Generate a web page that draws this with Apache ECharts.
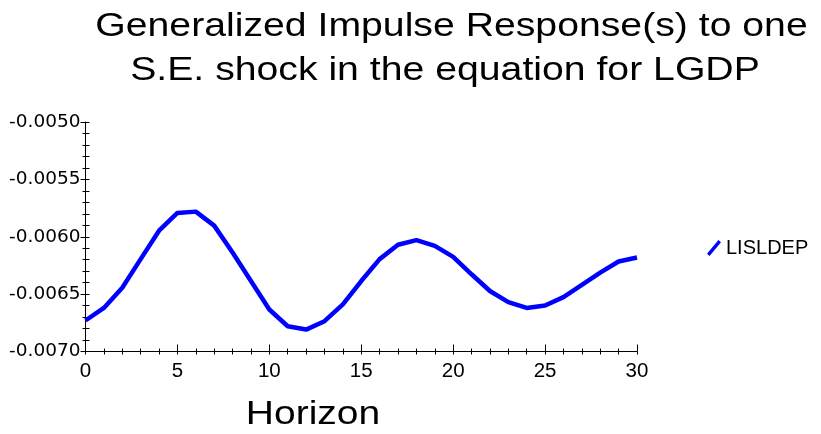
<!DOCTYPE html>
<html><head><meta charset="utf-8">
<script src="https://cdn.jsdelivr.net/npm/echarts@6/dist/echarts.min.js"></script>
<style>html,body{margin:0;padding:0;background:#fff}#c{width:821px;height:434px}</style>
</head><body><div id="c"></div>
<script>
const horizons = [0,1,2,3,4,5,6,7,8,9,10,11,12,13,14,15,16,17,18,19,20,21,22,23,24,25,26,27,28,29,30];
const lisldep = [-0.00673,-0.00662,-0.006444,-0.006195,-0.005947,-0.005792,-0.005781,-0.005903,-0.006137,-0.006386,-0.006634,-0.00678,-0.006809,-0.006736,-0.00659,-0.006386,-0.006195,-0.00607,-0.006029,-0.006079,-0.006175,-0.006327,-0.006473,-0.00657,-0.00662,-0.006599,-0.006526,-0.00642,-0.006313,-0.006216,-0.006181];
const seriesName = 'LISLDEP';
const titleLines = ['Generalized Impulse Response(s) to one','S.E. shock in the equation for LGDP'];
const xName = 'Horizon';

const font = 'Liberation Sans, Arial, sans-serif';
const chart = echarts.init(document.getElementById('c'), null, {renderer:'canvas'});
const data = horizons.map((h,i)=>[h, lisldep[i]]);
const axisX = {type:'value', min:0, max:30, interval:5, splitLine:{show:false}};
const axisY = {type:'value', min:-0.007, max:-0.005, interval:0.0005, splitLine:{show:false}};
const blk = {color:'#000', width:1};
chart.setOption({
  animation:false,
  backgroundColor:'#fff',
  grid:{left:85.5, right:184, top:122, bottom:82.5, containLabel:false},
  legend:{left:702, top:233, itemWidth:14, itemHeight:16, itemGap:8,
    icon:'path://M0,13.7 L2.6,16 L14,2.3 L11.4,0 Z',
    textStyle:{fontFamily:font, fontSize:20, color:'#000'},
    data:[{name:seriesName, itemStyle:{color:'#0000ff'}}]},
  xAxis:[
    Object.assign({}, axisX, {
      axisLine:{show:true, onZero:false, lineStyle:blk},
      axisTick:{show:true, inside:true, length:7, lineStyle:blk},
      minorTick:{show:true, splitNumber:5, length:3, lineStyle:blk},
      axisLabel:{fontFamily:font, fontSize:20.5, color:'#000', margin:9}
    }),
    Object.assign({}, axisX, {
      position:'bottom', offset:0,
      axisLine:{show:false},
      axisTick:{show:true, inside:false, length:3, lineStyle:blk},
      minorTick:{show:true, splitNumber:5, length:3, lineStyle:blk},
      axisLabel:{show:false}
    })
  ],
  yAxis:[
    Object.assign({}, axisY, {
      axisLine:{show:true, onZero:false, lineStyle:blk},
      axisTick:{show:true, inside:false, length:5, lineStyle:blk},
      minorTick:{show:true, splitNumber:5, length:3, lineStyle:blk},
      axisLabel:{fontFamily:'DejaVu Sans, sans-serif', fontSize:18.5, color:'#000', margin:5,
        formatter:v=>v.toFixed(4)}
    }),
    Object.assign({}, axisY, {
      position:'left', offset:0,
      axisLine:{show:false},
      axisTick:{show:true, inside:true, length:4, lineStyle:blk},
      minorTick:{show:true, splitNumber:5, length:4, lineStyle:blk},
      axisLabel:{show:false}
    })
  ],
  graphic:[
    {type:'text', x:451.5, y:27, scaleX:1.17, style:{text:titleLines[0], x:0, y:0, align:'center', verticalAlign:'middle', fontFamily:font, fontSize:33.5, fill:'#000'}},
    {type:'text', x:445, y:71, scaleX:1.17, style:{text:titleLines[1], x:0, y:0, align:'center', verticalAlign:'middle', fontFamily:font, fontSize:33.5, fill:'#000'}},
    {type:'text', x:313, y:415, scaleX:1.2, style:{text:xName, x:0, y:0, align:'center', verticalAlign:'middle', fontFamily:font, fontSize:32.5, fill:'#000'}}
  ],
  series:[{name:seriesName, type:'line', data:data, showSymbol:false, symbol:'none',
    lineStyle:{color:'#0000ff', width:4.5}, itemStyle:{color:'#0000ff'}, xAxisIndex:0, yAxisIndex:0}]
});
</script></body></html>
